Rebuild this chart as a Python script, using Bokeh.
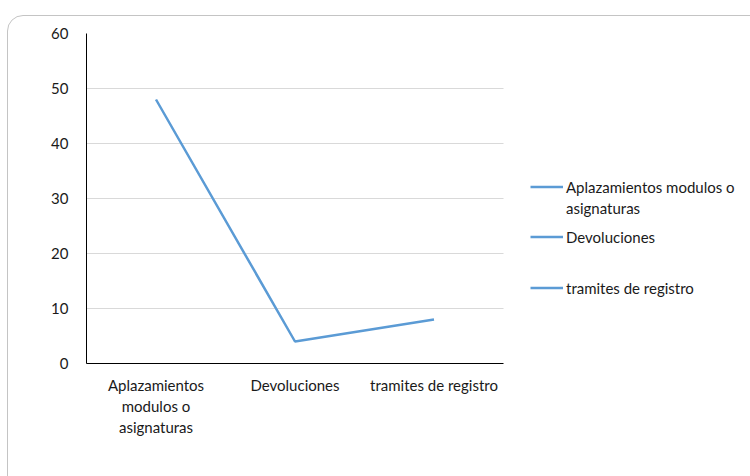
from bokeh.plotting import figure
from bokeh.models import (Legend, LegendItem, FixedTicker, SingleIntervalTicker,
                          Range1d, InlineStyleSheet)
from bokeh.embed import file_html
from bokeh.resources import INLINE

# Data
categories = ["Aplazamientos modulos o asignaturas", "Devoluciones", "tramites de registro"]
tick_labels = ["Aplazamientos\nmodulos o\nasignaturas", "Devoluciones", "tramites de registro"]
values = [48, 4, 8]
# legend text, wrapped the same way per entry (first line carries the swatch)
legend_lines = [["Aplazamientos modulos o", "asignaturas"], ["Devoluciones"], ["tramites de registro"]]

FONT = "Lato"
FONT_SIZE = "15px"
TEXT_COLOR = "#1a1a1a"
LINE_COLOR = "#5b9bd5"

# category slots sit at the middle of each unit interval
xs = [i + 0.5 for i in range(len(categories))]
n = len(categories)

# frame: x 86..750, y 33..363 ; one category slot is 139 px wide
SLOT = 139
FRAME_LEFT, FRAME_RIGHT = 86, 750

p = figure(width=750, height=476,
           x_range=Range1d(0, (FRAME_RIGHT - FRAME_LEFT) / SLOT),
           y_range=Range1d(0, 60), output_backend="svg", toolbar_location=None,
           min_border_left=FRAME_LEFT, min_border_right=0,
           min_border_top=33, min_border_bottom=476 - 363)
p.outline_line_color = None
p.background_fill_color = "white"
p.border_fill_color = "white"

r = p.line(x=xs, y=values, line_color=LINE_COLOR, line_width=2.5)

# axes
p.yaxis.ticker = SingleIntervalTicker(interval=10)
p.yaxis.major_tick_line_color = None
p.yaxis.minor_tick_line_color = None
p.yaxis.major_tick_out = 0
p.yaxis.major_tick_in = 0
p.yaxis.axis_line_color = "black"
p.yaxis.major_label_text_font = FONT
p.yaxis.major_label_text_font_size = FONT_SIZE
p.yaxis.major_label_text_color = TEXT_COLOR
p.yaxis.major_label_standoff = 14

p.xaxis.ticker = FixedTicker(ticks=xs)
p.xaxis.bounds = (0, n)
p.xaxis.major_tick_line_color = None
p.xaxis.minor_tick_line_color = None
p.xaxis.major_tick_out = 0
p.xaxis.major_tick_in = 0
p.xaxis.axis_line_color = "black"
p.xaxis.major_label_text_font = FONT
p.xaxis.major_label_text_font_size = FONT_SIZE
p.xaxis.major_label_text_color = TEXT_COLOR
p.xaxis.major_label_text_line_height = 1.17
p.xaxis.major_label_standoff = 12
p.xaxis.major_label_overrides = dict(zip(xs, tick_labels))

p.xgrid.grid_line_color = None
p.ygrid.grid_line_color = "#d9d9d9"
p.ygrid.grid_line_width = 1
p.ygrid.cross_bounds = (0, n)

# legend: one block per text line, offsets measured from the frame's bottom-left
legend_y = [[166, 145], [116], [65]]


def legend_block(text, y, renderers):
    return Legend(items=[LegendItem(label=text, renderers=renderers)],
                  location=(444, y), padding=0, margin=0, spacing=0,
                  glyph_width=33, glyph_height=21, label_height=21,
                  label_standoff=3,
                  label_text_font=FONT, label_text_font_size=FONT_SIZE,
                  label_text_color=TEXT_COLOR,
                  border_line_alpha=0, background_fill_alpha=0)


for lines, ys in zip(legend_lines, legend_y):
    for k, (txt, ly) in enumerate(zip(lines, ys)):
        p.add_layout(legend_block(txt, ly, [r] if k == 0 else []))

# rounded chart border, running off the right and bottom edges
p.stylesheets = [InlineStyleSheet(css="""
:host { position: relative; overflow: hidden; }
:host::after {
  content: ""; position: absolute; left: 7px; top: 15px;
  width: 800px; height: 520px; box-sizing: border-box;
  border: 1px solid #c4c4c4; border-radius: 16px; pointer-events: none;
}
""")]

open("out.html", "w").write(file_html(p, INLINE))
